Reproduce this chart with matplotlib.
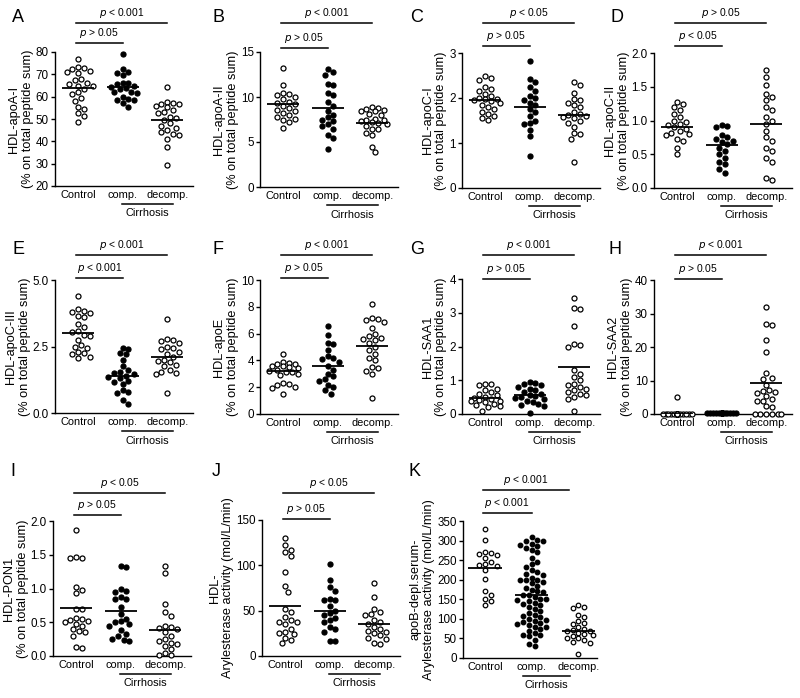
import numpy as np
import matplotlib
matplotlib.use("Agg")
import matplotlib.pyplot as plt
import matplotlib.transforms as mtransforms

plt.rcParams['font.family'] = ['Liberation Sans', 'DejaVu Sans']

# ---------------- data ----------------
groups = ["Control", "comp.", "decomp."]

a_ctrl = [77, 73.5, 73, 72.5, 71.5, 71, 70.5, 68, 67.5, 66, 65.5, 65, 65, 63.5, 62, 61, 59.5, 58, 55.5, 54.5, 52.5, 51.5, 48.5]
a_comp = [79, 72.5, 71, 70.5, 69.5, 66, 66, 65.5, 65, 64.5, 64, 63.5, 62, 62, 61.5, 60, 59, 58.5, 58.5, 57, 55.5]
a_dec = [64.5, 57.5, 57, 56.5, 56.5, 56, 55.5, 54, 53, 52.5, 51, 50.5, 49.5, 48, 47, 46, 45, 44, 43.5, 43, 41, 37.5, 29.5]
a_mid = [64, 64.2, 49.6]

b_ctrl = [13.2, 11.3, 10.5, 10.3, 10.2, 10.0, 9.8, 9.5, 9.3, 9.2, 9.0, 8.8, 8.6, 8.5, 8.2, 8.0, 7.8, 7.6, 7.5, 7.2, 6.6]
b_comp = [13.1, 12.8, 12.5, 11.5, 11.3, 10.5, 10.2, 9.5, 9.0, 8.5, 8.0, 7.8, 7.5, 7.3, 7.0, 6.8, 6.5, 5.8, 5.5, 4.2]
b_dec = [8.9, 8.8, 8.7, 8.6, 8.5, 8.4, 8.1, 8.0, 7.6, 7.5, 7.4, 7.3, 7.2, 7.1, 7.0, 6.8, 6.5, 6.4, 6.0, 5.8, 4.5, 3.9]
b_mid = [9.2, 8.8, 7.1]

c_ctrl = [2.5, 2.45, 2.4, 2.25, 2.2, 2.15, 2.1, 2.05, 2.0, 1.98, 1.97, 1.95, 1.93, 1.9, 1.85, 1.8, 1.75, 1.7, 1.65, 1.6, 1.55, 1.52]
c_comp = [2.82, 2.43, 2.35, 2.25, 2.15, 2.05, 2.0, 1.95, 1.9, 1.85, 1.75, 1.7, 1.6, 1.5, 1.45, 1.42, 1.3, 1.15, 0.72]
c_dec = [2.35, 2.3, 2.12, 1.98, 1.95, 1.9, 1.85, 1.8, 1.7, 1.65, 1.62, 1.6, 1.58, 1.55, 1.5, 1.45, 1.35, 1.22, 1.2, 1.1, 0.58]
c_mid = [1.95, 1.8, 1.63]

d_ctrl = [1.28, 1.25, 1.2, 1.15, 1.1, 1.05, 1.0, 0.98, 0.95, 0.93, 0.9, 0.88, 0.85, 0.82, 0.8, 0.78, 0.72, 0.7, 0.6, 0.5]
d_comp = [0.93, 0.92, 0.9, 0.78, 0.75, 0.73, 0.7, 0.68, 0.65, 0.6, 0.55, 0.5, 0.45, 0.38, 0.35, 0.28, 0.22]
d_dec = [1.75, 1.65, 1.52, 1.4, 1.35, 1.3, 1.2, 1.15, 1.05, 1.0, 0.95, 0.85, 0.75, 0.7, 0.6, 0.55, 0.45, 0.38, 0.15, 0.12]
d_mid = [0.91, 0.63, 0.95]

e_ctrl = [4.4, 3.9, 3.85, 3.8, 3.75, 3.65, 3.6, 3.35, 3.25, 3.1, 3.05, 2.95, 2.9, 2.75, 2.55, 2.5, 2.45, 2.3, 2.25, 2.2, 2.1, 2.05]
e_comp = [2.45, 2.4, 2.25, 2.2, 2.0, 1.75, 1.6, 1.55, 1.5, 1.45, 1.4, 1.35, 1.3, 1.2, 1.15, 1.1, 0.85, 0.8, 0.75, 0.5, 0.35]
e_dec = [3.55, 2.8, 2.75, 2.7, 2.65, 2.5, 2.45, 2.4, 2.3, 2.2, 2.1, 2.0, 1.95, 1.9, 1.8, 1.75, 1.6, 1.55, 1.5, 1.45, 0.75]
e_mid = [3.0, 1.4, 2.1]

f_ctrl = [4.5, 3.9, 3.8, 3.75, 3.7, 3.6, 3.55, 3.5, 3.4, 3.3, 3.2, 3.15, 3.1, 3.0, 2.9, 2.3, 2.25, 2.2, 2.0, 1.95, 1.5]
f_comp = [6.6, 5.9, 5.3, 5.2, 4.8, 4.3, 4.2, 4.1, 3.9, 3.6, 3.3, 3.0, 2.8, 2.6, 2.5, 2.2, 2.0, 1.8, 1.5]
f_dec = [8.2, 7.2, 7.1, 7.0, 6.9, 6.4, 6.0, 5.8, 5.7, 5.6, 5.5, 5.3, 5.0, 4.8, 4.5, 4.2, 4.0, 3.5, 3.4, 3.2, 3.0, 1.2]
f_mid = [3.2, 3.55, 5.1]

g_ctrl = [0.9, 0.88, 0.87, 0.75, 0.7, 0.65, 0.6, 0.55, 0.5, 0.48, 0.45, 0.42, 0.4, 0.38, 0.35, 0.3, 0.28, 0.25, 0.2, 0.1]
g_comp = [0.95, 0.93, 0.9, 0.85, 0.8, 0.75, 0.7, 0.65, 0.6, 0.55, 0.52, 0.5, 0.48, 0.45, 0.4, 0.35, 0.3, 0.28, 0.25, 0.02]
g_dec = [3.45, 3.15, 3.1, 2.6, 2.05, 2.0, 2.08, 1.3, 1.2, 1.1, 1.0, 0.9, 0.85, 0.8, 0.75, 0.7, 0.65, 0.6, 0.55, 0.5, 0.45, 0.1]
g_mid = [0.48, 0.55, 1.38]

h_ctrl = [5.2] + [0.0] * 20
h_comp = [0.3] * 20
h_dec = [31.8, 27, 26.5, 22, 18.5, 12.2, 10.8, 10.5, 8.8, 7.3, 7.0, 6.5, 6.2, 5.5, 4.6, 4.0, 3.8, 2.5, 2.2, 0, 0, 0, 0, 0, 0]
h_mid = [0.0, 0.3, 9.2]

i_ctrl = [1.87, 1.46, 1.45, 1.45, 1.02, 0.98, 0.93, 0.7, 0.7, 0.57, 0.55, 0.53, 0.52, 0.5, 0.48, 0.45, 0.4, 0.37, 0.35, 0.3, 0.13, 0.12]
i_comp = [1.34, 1.32, 1.0, 0.97, 0.95, 0.87, 0.85, 0.85, 0.72, 0.62, 0.55, 0.52, 0.5, 0.47, 0.45, 0.38, 0.32, 0.3, 0.25, 0.23, 0.22]
i_dec = [1.33, 1.23, 0.77, 0.65, 0.6, 0.45, 0.43, 0.42, 0.4, 0.35, 0.3, 0.25, 0.22, 0.2, 0.18, 0.15, 0.1, 0.05, 0.02, 0.01]
i_mid = [0.71, 0.66, 0.39]

j_ctrl = [130, 122, 117, 115, 110, 93, 77, 71, 52, 49, 43, 40, 38, 37, 35, 30, 27, 25, 24, 20, 18, 14]
j_comp = [102, 84, 76, 72, 63, 62, 62, 55, 50, 47, 45, 42, 40, 38, 32, 30, 27, 17, 16]
j_dec = [81, 65, 52, 49, 46, 45, 40, 38, 35, 32, 30, 28, 27, 25, 23, 20, 19, 14, 13]
j_mid = [55, 50, 35]

k_ctrl = [330, 302, 270, 268, 265, 262, 255, 245, 240, 238, 235, 225, 202, 172, 160, 150, 145, 135]
k_comp = [308, 302, 300, 298, 290, 288, 285, 280, 275, 270, 255, 245, 240, 232, 225, 220, 215, 212, 205, 200,
          200, 198, 195, 192, 185, 180, 175, 170, 168, 162, 160, 155, 152, 150, 148, 145, 140, 138, 135, 130,
          125, 120, 115, 110, 108, 105, 100, 98, 95, 92, 90, 88, 85, 80, 78, 75, 70, 65, 60, 58, 55, 45, 35, 30]
k_dec = [135, 130, 128, 110, 105, 95, 90, 88, 80, 75, 72, 70, 68, 65, 62, 60, 55, 52, 50, 45, 40, 38, 10]
k_mid = [230, 162, 70]

ylabels = {
    "A": "HDL-apoA-I\n(% on total peptide sum)",
    "B": "HDL-apoA-II\n(% on total peptide sum)",
    "C": "HDL-apoC-I\n(% on total peptide sum)",
    "D": "HDL-apoC-II\n(% on total peptide sum)",
    "E": "HDL-apoC-III\n(% on total peptide sum)",
    "F": "HDL-apoE\n(% on total peptide sum)",
    "G": "HDL-SAA1\n(% on total peptide sum)",
    "H": "HDL-SAA2\n(% on total peptide sum)",
    "I": "HDL-PON1\n(% on total peptide sum)",
    "J": "HDL-\nArylesterase activity (mol/L/min)",
    "K": "apoB-depl.serum-\nArylesterase activity (mol/L/min)",
}
pvals = {  # (top bar: Control vs decomp, lower bar: Control vs comp)
    "A": ("<", "0.001", ">", "0.05"), "B": ("<", "0.001", ">", "0.05"),
    "C": ("<", "0.05", ">", "0.05"), "D": (">", "0.05", "<", "0.05"),
    "E": ("<", "0.001", "<", "0.001"), "F": ("<", "0.001", ">", "0.05"),
    "G": ("<", "0.001", ">", "0.05"), "H": ("<", "0.001", ">", "0.05"),
    "I": ("<", "0.05", ">", "0.05"), "J": ("<", "0.05", ">", "0.05"),
    "K": ("<", "0.001", "<", "0.001"),
}
data = {
    "A": (a_ctrl, a_comp, a_dec, a_mid), "B": (b_ctrl, b_comp, b_dec, b_mid),
    "C": (c_ctrl, c_comp, c_dec, c_mid), "D": (d_ctrl, d_comp, d_dec, d_mid),
    "E": (e_ctrl, e_comp, e_dec, e_mid), "F": (f_ctrl, f_comp, f_dec, f_mid),
    "G": (g_ctrl, g_comp, g_dec, g_mid), "H": (h_ctrl, h_comp, h_dec, h_mid),
    "I": (i_ctrl, i_comp, i_dec, i_mid), "J": (j_ctrl, j_comp, j_dec, j_mid),
    "K": (k_ctrl, k_comp, k_dec, k_mid),
}

# ---------------- layout (pixels) ----------------
W, H = 800, 698
# rect (left, top, right, bottom), ylim, yticks, fmt, top bar y, low bar y, xlim, letter pos, top-bar end, cirrhosis span
layout = {
    "A": ((55, 52, 193, 186), (20, 80), [20, 30, 40, 50, 60, 70, 80], "{:.0f}", 23, 43, (-0.52, 2.58), (12, 17), 2.0, (0.98, 2.12)),
    "B": ((260, 52, 398, 187), (0, 15), [0, 5, 10, 15], "{:.0f}", 23, 48, (-0.52, 2.58), (212, 17), 2.0, (0.98, 2.12)),
    "C": ((462, 53, 600, 188), (0, 3), [0, 1, 2, 3], "{:.0f}", 23, 46, (-0.52, 2.58), (410, 17), 2.0, (0.98, 2.12)),
    "D": ((654, 53, 792, 188), (0, 2), [0, 0.5, 1.0, 1.5, 2.0], "{:.1f}", 23, 46, (-0.52, 2.58), (611, 17), 2.0, (0.98, 2.12)),
    "E": ((55, 280, 193, 413), (0, 5), [0, 2.5, 5.0], "{:.1f}", 255, 278, (-0.52, 2.58), (12, 249), 2.0, (0.98, 2.12)),
    "F": ((260, 280, 398, 414), (0, 10), [0, 2, 4, 6, 8, 10], "{:.0f}", 255, 278, (-0.52, 2.58), (212, 249), 2.0, (0.98, 2.12)),
    "G": ((462, 279, 600, 414), (0, 4), [0, 1, 2, 3, 4], "{:.0f}", 255, 279, (-0.52, 2.58), (410, 249), 2.0, (0.98, 2.12)),
    "H": ((654, 280, 792, 414), (0, 40), [0, 10, 20, 30, 40], "{:.0f}", 255, 279, (-0.52, 2.58), (608, 249), 2.0, (0.98, 2.12)),
    "I": ((53, 521, 191, 656), (0, 2), [0, 0.5, 1.0, 1.5, 2.0], "{:.1f}", 493, 515, (-0.52, 2.58), (10, 471), 2.0, (0.98, 2.12)),
    "J": ((262, 520, 400, 656), (0, 150), [0, 50, 100, 150], "{:.0f}", 493, 519, (-0.52, 2.58), (212, 471), 2.0, (0.98, 2.12)),
    "K": ((463, 521, 597, 658), (0, 350), list(range(0, 351, 50)), "{:.0f}", 490, 513, (-0.47, 2.40), (408, 471), 1.8, (0.82, 1.82)),
}

DIAM = 5.8  # marker spacing in px


def swarm(vals, ax, max_half_units):
    p0 = ax.transData.transform((0, 0))
    p1 = ax.transData.transform((1, 1))
    sx, sy = p1[0] - p0[0], p1[1] - p0[1]
    ys = np.asarray(vals, float) * sy
    order = np.argsort(-ys, kind="stable")
    placed = []
    res = np.zeros(len(ys))
    step = DIAM * 0.5
    mh = max_half_units * sx
    cands = [0.0]
    k = 1
    while k * step <= mh + 1e-9:
        cands += [k * step, -k * step]
        k += 1
    for i in order:
        y = ys[i]
        chosen, bestd, bestc = None, -1, 0.0
        for c in cands:
            if placed:
                d = min(np.hypot(c - px, y - py) for px, py in placed)
            else:
                d = np.inf
            if d >= DIAM:
                chosen = c
                break
            if d > bestd:
                bestd, bestc = d, c
        if chosen is None:
            chosen = bestc
        placed.append((chosen, y))
        res[i] = chosen
    return res / sx


fig = plt.figure(figsize=(W / 100, H / 100), dpi=100)
fs_tick = 7.6
for key, (rect, ylim, yticks, fmt, ytop, ylow, xlim, lpos, topend, cspan) in layout.items():
    l, t, r, b = rect
    ax = fig.add_axes([l / W, 1 - b / H, (r - l) / W, (b - t) / H])
    ax.set_xlim(*xlim)
    ax.set_ylim(*ylim)
    ctrl, comp, dec, mid = data[key]
    for gi, (vals, filled) in enumerate([(ctrl, False), (comp, True), (dec, False)]):
        maxh = 0.33
        off = swarm(vals, ax, maxh)
        ax.plot(gi + off, vals, "o", ms=3.6 if key != "K" else 3.3, mew=0.9, mec="black",
                mfc="black" if filled else "white", linestyle="none", clip_on=False, zorder=3)
        ax.hlines(mid[gi], gi - 0.36, gi + 0.36, color="black", lw=1.3, zorder=4)
    ax.spines["top"].set_visible(False)
    ax.spines["right"].set_visible(False)
    ax.spines["left"].set_linewidth(1.0)
    ax.spines["bottom"].set_linewidth(1.0)
    ax.set_yticks(yticks)
    ax.set_yticklabels([fmt.format(v) for v in yticks])
    ax.tick_params(axis="y", length=3, width=1.0, labelsize=fs_tick + 0.8, pad=1.5)
    ax.set_xticks([0, 1, 2])
    ax.set_xticklabels(groups)
    ax.tick_params(axis="x", length=0, labelsize=fs_tick + 0.3, pad=3)
    ax.set_ylabel(ylabels[key], fontsize=9.2, labelpad=1.5, linespacing=1.15)

    # significance bars
    tr = mtransforms.blended_transform_factory(ax.transData, fig.transFigure)
    s1, v1, s2, v2 = pvals[key]
    for (yb, x1, sgn, val) in [(ytop, topend, s1, v1), (ylow, 1.0, s2, v2)]:
        yf = 1 - yb / H
        ax.plot([-0.05, x1], [yf, yf], color="black", lw=1.1, transform=tr, clip_on=False)
        ax.text((x1 - 0.05) / 2, yf + 3 / H, r"$p$" + f" {sgn} {val}", transform=tr,
                ha="center", va="bottom", fontsize=fs_tick - 0.2)
    # Cirrhosis bracket
    yl = 1 - (b + 18) / H
    ax.plot(list(cspan), [yl, yl], color="black", lw=1.1, transform=tr, clip_on=False)
    ax.text(sum(cspan) / 2, 1 - (b + 27.5) / H, "Cirrhosis", transform=tr, ha="center", va="center",
            fontsize=fs_tick + 0.3)
    fig.text(lpos[0] / W, 1 - lpos[1] / H, key, fontsize=13, ha="left", va="center")

fig.savefig("out.png", dpi=100)
